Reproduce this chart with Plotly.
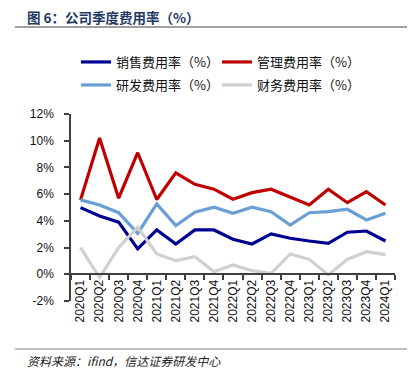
import plotly.graph_objects as go

quarters = ["2020Q1", "2020Q2", "2020Q3", "2020Q4", "2021Q1", "2021Q2", "2021Q3", "2021Q4",
            "2022Q1", "2022Q2", "2022Q3", "2022Q4", "2023Q1", "2023Q2", "2023Q3", "2023Q4", "2024Q1"]
sales = [4.99, 4.37, 3.90, 1.90, 3.32, 2.27, 3.32, 3.32, 2.62, 2.27, 3.02, 2.70, 2.49, 2.32, 3.15, 3.24, 2.49]
admin = [5.57, 10.2, 5.70, 9.10, 5.60, 7.60, 6.74, 6.37, 5.62, 6.11, 6.37, 5.81, 5.19, 6.37, 5.36, 6.19, 5.19]
rnd = [5.57, 5.19, 4.61, 3.07, 5.27, 3.64, 4.64, 5.02, 4.57, 5.02, 4.69, 3.69, 4.61, 4.69, 4.87, 4.07, 4.57]
fin = [2.00, -0.25, 2.00, 3.52, 1.52, 1.02, 1.32, 0.20, 0.70, 0.27, 0.07, 1.52, 1.12, -0.05, 1.12, 1.69, 1.47]

names = ["销售费用率（%）", "管理费用率（%）", "研发费用率（%）", "财务费用率（%）"]
colors = ["#000090", "#C00000", "#6A9FD6", "#D0D0D0"]
series = [sales, admin, rnd, fin]
legend_ids = ["legend", "legend", "legend2", "legend2"]

y_ticks = [-2, 0, 2, 4, 6, 8, 10, 12]
y_labels = [f"{v}%" for v in y_ticks]

OFF = 8  # browser default body margin
W, H = 415 - OFF, 382 - OFF
L, R, T, B = 71 - OFF, 20, 114 - OFF, H - (301 - OFF)
pw = W - L - R
ph = H - T - B

def px_x(sx):
    return (sx - OFF - L) / pw

def py(sy):
    return (H - B - (sy - OFF)) / ph

fig = go.Figure()
for n, c, s, lg in zip(names, colors, series, legend_ids):
    fig.add_trace(go.Scatter(x=quarters, y=s, name=n, mode="lines", legend=lg,
                             line=dict(color=c, width=3.2)))

leg_common = dict(orientation="h", xanchor="left", yanchor="middle",
                  font=dict(family="Noto Sans CJK SC", size=13, color="#111"),
                  entrywidth=96, entrywidthmode="pixels", itemwidth=30,
                  bgcolor="rgba(0,0,0,0)", borderwidth=0)

fig.update_layout(
    width=W, height=H,
    margin=dict(l=L, r=R, t=T, b=B, autoexpand=False),
    plot_bgcolor="white", paper_bgcolor="white",
    font=dict(family="Liberation Sans, Arial", size=12, color="#222"),
    legend=dict(x=px_x(76), y=py(62), **leg_common),
    legend2=dict(x=px_x(76), y=py(85), **leg_common),
    xaxis=dict(type="category", showgrid=False, showline=True, linecolor="#404040", linewidth=1.5,
               ticks="outside", ticklen=5, tickcolor="#404040", tickwidth=1.5,
               tickson="boundaries", tickangle=-90, anchor="free", position=2 / 14,
               tickfont=dict(family="Liberation Sans, Arial", size=12, color="#111"),
               range=[-0.5, len(quarters) - 0.5]),
    yaxis=dict(range=[-2, 12], tickvals=y_ticks, ticktext=y_labels, showgrid=False,
               zeroline=False, showline=True, linecolor="#404040", linewidth=1.5,
               ticks="outside", ticklen=5, tickcolor="#404040", tickwidth=1.5,
               ticklabelstandoff=8,
               tickfont=dict(family="Liberation Sans, Arial", size=12, color="#111"),
               domain=[0, 1]),
)

fig.add_annotation(text="<b>图 6：公司季度费用率（%）</b>", xref="paper", yref="paper",
                   x=px_x(25), y=py(17), xanchor="left", yanchor="middle", showarrow=False,
                   font=dict(family="Noto Sans CJK SC", size=13.5, color="#1F3864"))
fig.add_shape(type="line", xref="paper", yref="paper", x0=px_x(15), x1=px_x(415),
              y0=py(27), y1=py(27), line=dict(color="#808080", width=1.5))
fig.add_shape(type="line", xref="paper", yref="paper", x0=px_x(15), x1=px_x(415),
              y0=py(349), y1=py(349), line=dict(color="#808080", width=1))
fig.add_annotation(text="<i>资料来源：ifind，信达证券研发中心</i>", xref="paper", yref="paper",
                   x=px_x(25), y=py(360), xanchor="left", yanchor="middle", showarrow=False,
                   font=dict(family="Noto Sans CJK SC", size=12, color="#222"))

fig.write_html("out.html")
